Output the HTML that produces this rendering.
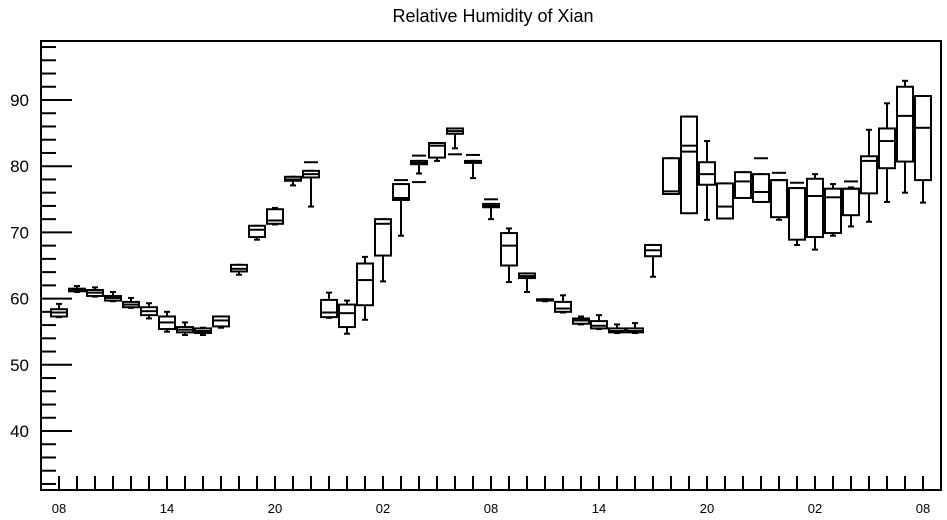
<!DOCTYPE html>
<html><head><meta charset="utf-8"><style>
body{margin:0;background:#fff;}
svg{display:block;font-family:"Liberation Sans",sans-serif;}
</style></head><body>
<svg id="chart" width="947" height="520" xmlns="http://www.w3.org/2000/svg">
<text x="493" y="22" text-anchor="middle" font-size="18">Relative Humidity of Xian</text>
<g id="axes"></g><g id="marks"></g>
</svg>
<script>
const hourLabels=["08","14","20","02","08","14","20","02","08"];
const yTicks=[40,50,60,70,80,90];
const q1=[57.3,61.1,60.4,59.7,58.7,57.5,55.4,54.9,54.8,55.8,64.1,69.3,71.3,77.8,78.3,57.2,55.7,59.0,66.5,74.9,80.3,81.3,84.9,80.5,73.8,65.0,63.1,59.7,58.0,56.2,55.5,54.9,54.9,66.4,75.8,72.9,77.2,72.1,75.2,74.6,72.3,68.9,69.3,69.9,72.6,75.9,79.7,80.7,77.9];
const med=[57.9,61.3,60.9,60.1,59.1,58.1,56.4,55.3,55.1,56.7,64.5,70.4,71.8,78.0,78.8,57.9,57.8,62.8,71.3,75.2,80.5,83.1,85.3,80.6,74.0,68.0,63.4,59.8,58.5,56.7,55.9,55.1,55.1,67.3,76.2,83.1,78.8,73.9,77.7,76.1,77.9,76.7,75.5,75.3,76.6,80.8,83.8,87.6,85.8];
const q3=[58.4,61.5,61.3,60.4,59.5,58.7,57.3,55.7,55.5,57.3,65.1,71.0,73.5,78.4,79.3,59.8,59.1,65.3,72.0,77.3,80.8,83.5,85.7,80.8,74.3,69.9,63.8,59.9,59.5,57.0,56.6,55.5,55.5,68.1,81.2,87.5,80.6,77.4,79.1,78.8,77.9,76.7,78.1,76.6,76.6,81.5,85.7,92.0,90.6];
const whiskLo=[57.2,61.0,60.3,59.6,58.6,57.0,55.0,54.5,54.5,55.6,63.6,68.9,71.2,77.1,73.9,57.1,54.7,56.8,62.6,69.5,78.9,80.8,82.7,78.2,72.0,62.5,61.0,59.6,57.9,56.1,55.4,54.8,54.8,63.3,75.8,72.9,71.9,72.1,75.2,74.6,71.9,68.1,67.4,69.5,70.9,71.6,74.6,76.0,74.5];
const whiskHi=[59.2,61.9,61.7,61.0,60.1,59.3,58.0,56.4,55.6,57.3,65.1,71.0,73.7,78.4,79.3,60.9,59.7,66.3,72.0,77.3,80.8,83.5,85.7,80.8,74.3,70.6,63.8,59.9,60.5,57.3,57.5,56.1,56.3,68.1,81.2,87.5,83.8,77.4,79.1,78.8,77.9,76.7,78.8,77.3,76.8,85.5,89.5,92.9,90.6];
const outIdx=[14,19,20,20,22,23,24,39,40,41,44,35];
const outVal=[80.6,77.9,81.6,77.6,81.8,81.7,75.0,81.2,79.0,77.5,77.7,82.2];

const NS="http://www.w3.org/2000/svg";
const L=41,R=941,T=41,B=490;
const y=v=>100+(90-v)*6.62;
const x=i=>59+i*18;
const axes=document.getElementById('axes'),marks=document.getElementById('marks');
function mk(tag,attrs,parent){const e=document.createElementNS(NS,tag);for(const k in attrs)e.setAttribute(k,attrs[k]);parent.appendChild(e);return e;}
const frame=mk('rect',{x:L,y:T,width:R-L,height:B-T,fill:'none',stroke:'#000','stroke-width':2},axes);


for(let v=32;v<=98;v+=2){
  const major=v%10===0;
  const t=mk('line',{x1:L,x2:L+(major?31:15),y1:y(v),y2:y(v),stroke:'#000','stroke-width':2},axes);
  
  
}
yTicks.forEach(v=>{
  const t=mk('text',{x:29,y:y(v)+6,'text-anchor':'end','font-size':17},axes);
  t.textContent=v;
  
  
});
for(let i=0;i<=48;i++){
  const t=mk('line',{x1:x(i),x2:x(i),y1:B,y2:B-14,stroke:'#000','stroke-width':2},axes);
  
  
}
hourLabels.forEach((s,k)=>{
  const t=mk('text',{x:x(k*6),y:513,'text-anchor':'middle','font-size':13},axes);
  t.textContent=s;
  
  
});
const hw=8,cw=3;
q1.forEach((_,i)=>{
  const g=mk('g',{stroke:'#000','stroke-width':2,fill:'none'},marks);
  
  
  const cx=x(i);
  mk('line',{x1:cx,x2:cx,y1:y(whiskHi[i]),y2:y(q3[i])},g);
  mk('line',{x1:cx,x2:cx,y1:y(q1[i]),y2:y(whiskLo[i])},g);
  mk('line',{x1:cx-cw,x2:cx+cw,y1:y(whiskHi[i]),y2:y(whiskHi[i])},g);
  mk('line',{x1:cx-cw,x2:cx+cw,y1:y(whiskLo[i]),y2:y(whiskLo[i])},g);
  mk('rect',{x:cx-hw,y:y(q3[i]),width:2*hw,height:Math.max(1,y(q1[i])-y(q3[i])),fill:'#fff'},g);
  mk('line',{x1:cx-hw,x2:cx+hw,y1:y(med[i]),y2:y(med[i])},g);
});
outIdx.forEach((i,k)=>{
  const o=mk('line',{x1:x(i)-7,x2:x(i)+7,y1:y(outVal[k]),y2:y(outVal[k]),stroke:'#000','stroke-width':2},marks);
  
  
});
</script>
</body></html>
